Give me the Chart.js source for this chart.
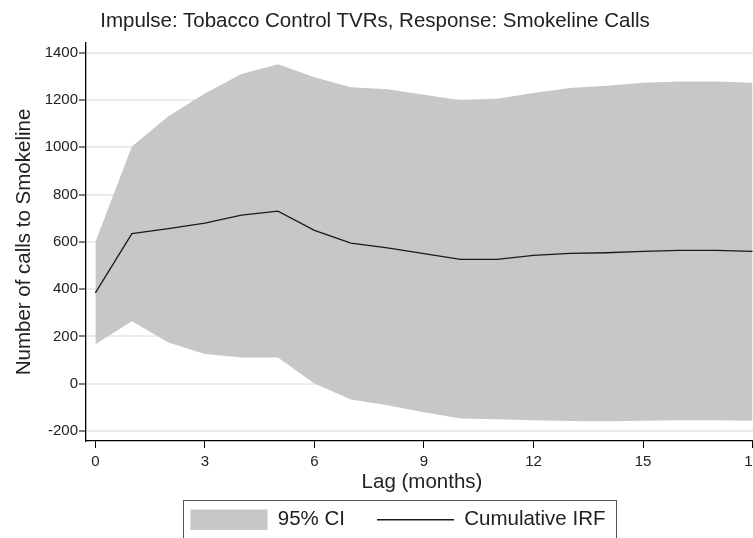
<!DOCTYPE html>
<html>
<head>
<meta charset="utf-8">
<script src="https://cdn.jsdelivr.net/npm/chart.js@4.4.2/dist/chart.umd.min.js"></script>
<style>
  body { margin: 0; background: #fff; }
  #wrap { position: relative; width: 753px; height: 538px; overflow: hidden; }
  #title {
    position: absolute; left: 0; top: 8px; width: 750px; text-align: center;
    font: 20.5px 'Liberation Sans', Arial, sans-serif;
    color: #222; line-height: 24.6px;
  }
  #box { position: absolute; left: 0; top: 0; width: 796px; height: 540px; }
</style>
</head>
<body>
<div id="wrap">
  <div id="box"><canvas id="chart-irf"></canvas></div>
  <div id="title">Impulse: Tobacco Control TVRs, Response: Smokeline Calls</div>
</div>
<script>
const lags = [0, 1, 2, 3, 4, 5, 6, 7, 8, 9, 10, 11, 12, 13, 14, 15, 16, 17, 18];
const irf = [384, 635, 656, 679, 713, 730, 649, 595, 575, 550, 526, 526, 543, 551, 554, 560, 564, 564, 560];
const ciUpper = [600, 1003, 1131, 1227, 1310, 1351, 1296, 1254, 1245, 1222, 1199, 1205, 1230, 1251, 1260, 1273, 1278, 1278, 1273];
const ciLower = [167, 264, 174, 126, 111, 111, 1, -67, -91, -120, -147, -150, -154, -157, -159, -156, -154, -154, -156];
const yTicks = [-200, 0, 200, 400, 600, 800, 1000, 1200, 1400];
const xTicks = [0, 3, 6, 9, 12, 15, 18];

const sans = "'Liberation Sans', Arial, sans-serif";

function points(vals) {
    return lags.map((l, i) => ({ x: l, y: vals[i] }));
}

// box round the legend, open at the bottom edge like the source
const legendFrame = {
    id: 'legendFrame',
    afterDraw(chart) {
        const boxes = chart.legend.legendHitBoxes;
        if (!boxes || !boxes.length) return;
        const left = Math.min(...boxes.map(b => b.left)) - 8;
        const right = Math.max(...boxes.map(b => b.left + b.width)) + 10;
        const top = boxes[0].top - 10;
        const ctx = chart.ctx;
        ctx.save();
        ctx.strokeStyle = '#555';
        ctx.lineWidth = 1;
        ctx.strokeRect(Math.round(left) + 0.5, Math.round(top) + 0.5, Math.round(right - left), 60);
        ctx.restore();
    }
};

const data = {
    datasets: [{
        label: 'Cumulative IRF',
        data: points(irf),
        borderColor: '#1a1a1a',
        backgroundColor: '#1a1a1a',
        borderWidth: 1.3,
        pointRadius: 0,
        pointStyle: 'line',
        tension: 0,
        fill: false
    }, {
        label: '95% CI',
        data: points(ciUpper),
        borderColor: 'transparent',
        backgroundColor: '#c6c7c9',
        borderWidth: 0,
        pointRadius: 0,
        pointStyle: 'rect',
        tension: 0,
        fill: '+1'
    }, {
        label: '',
        data: points(ciLower),
        borderColor: 'transparent',
        backgroundColor: '#c6c7c9',
        borderWidth: 0,
        pointRadius: 0,
        tension: 0,
        fill: false
    }]
};

const options = {
    responsive: true,
    maintainAspectRatio: false,
    animation: false,
    layout: { padding: { top: 43, left: 0, right: 0, bottom: 0 } },
    scales: {
        x: {
            type: 'linear',
            min: -0.257,
            max: 18.15,
            afterBuildTicks: s => { s.ticks = xTicks.map(v => ({ value: v })); },
            ticks: { padding: 5, color: '#222', font: { family: sans, size: 15 }, callback: v => String(v) },
            grid: { drawOnChartArea: false, tickLength: 7, tickColor: '#000', tickWidth: 1 },
            border: { color: '#000', width: 1.3 },
            title: {
                display: true,
                text: 'Lag (months)',
                color: '#222',
                font: { family: sans, size: 20.5 },
                padding: { top: -6.3, bottom: -16.8 }
            }
        },
        y: {
            min: -242,
            max: 1441,
            afterBuildTicks: s => { s.ticks = yTicks.map(v => ({ value: v })); },
            afterFit: s => { s.width = 86; },
            ticks: { padding: 1, color: '#222', font: { family: sans, size: 15 }, callback: v => String(v) },
            grid: { color: '#ebebeb', lineWidth: 2, tickLength: 7, tickColor: '#000', tickWidth: 1 },
            border: { color: '#000', width: 1.3 },
            title: {
                display: true,
                text: 'Number of calls to Smokeline',
                color: '#222',
                font: { family: sans, size: 20.5 },
                padding: { top: 12, bottom: 0 }
            }
        },
        // empty right-hand axis: keeps the plot edge where the source has it
        y2: {
            position: 'right',
            afterFit: s => { s.width = 38; },
            ticks: { display: false },
            grid: { display: false },
            border: { display: false }
        }
    },
    plugins: {
        title: { display: false },
        tooltip: { enabled: false },
        legend: {
            position: 'bottom',
            reverse: true,
            labels: {
                filter: item => item.text !== '',
                usePointStyle: true,
                pointStyleWidth: 77,
                boxHeight: 21,
                padding: 32,
                color: '#222',
                font: { family: sans, size: 20.5 }
            }
        }
    }
};

new Chart(document.getElementById('chart-irf'), {
    type: 'line',
    data,
    options,
    plugins: [legendFrame]
});
</script>
</body>
</html>
